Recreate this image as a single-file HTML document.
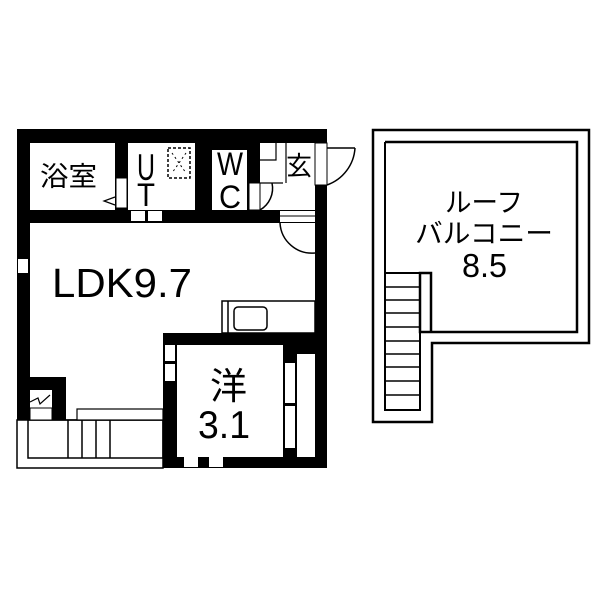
<!DOCTYPE html>
<html><head><meta charset="utf-8"><style>
html,body{margin:0;padding:0;background:#fff;width:600px;height:600px;overflow:hidden}
text{font-family:"Liberation Sans","Noto Sans CJK JP",sans-serif;fill:#000}
</style></head><body>
<svg width="600" height="600" viewBox="0 0 600 600" xmlns="http://www.w3.org/2000/svg">
<rect x="17" y="129" width="310" height="339" fill="#000"/>
<rect x="30" y="143" width="85" height="67" fill="#fff"/>
<rect x="128" y="143" width="67" height="67" fill="#fff"/>
<rect x="212" y="150" width="35" height="60" fill="#fff"/>
<rect x="260" y="143" width="55" height="67" fill="#fff"/>
<rect x="30" y="223" width="285" height="110" fill="#fff"/>
<rect x="30" y="333" width="133" height="87" fill="#fff"/>
<rect x="177" y="345" width="106" height="112" fill="#fff"/>
<rect x="17" y="420" width="146" height="48" fill="#fff"/>
<rect x="17" y="420" width="146" height="48" fill="none" stroke="#000" stroke-width="1.5"/>
<rect x="28" y="420" width="135" height="38" fill="none" stroke="#000" stroke-width="1.5"/>
<line x1="68" y1="420" x2="68" y2="458" stroke="#000" stroke-width="1.5"/>
<line x1="82" y1="420" x2="82" y2="458" stroke="#000" stroke-width="1.5"/>
<line x1="96" y1="420" x2="96" y2="458" stroke="#000" stroke-width="1.5"/>
<line x1="110" y1="420" x2="110" y2="458" stroke="#000" stroke-width="1.5"/>
<rect x="30" y="377" width="36" height="43" fill="#000"/>
<rect x="30" y="390" width="22" height="18" fill="#fff"/>
<polyline points="30,402 38,398 40,404 50,395" fill="none" stroke="#000" stroke-width="1.2"/>
<rect x="30" y="408" width="22" height="12" fill="#fff" stroke="#000" stroke-width="1"/>
<rect x="77" y="409" width="86" height="11" fill="#fff" stroke="#000" stroke-width="1.2"/>
<rect x="18" y="259" width="10" height="14" fill="#fff"/>
<rect x="116" y="178" width="11" height="30" fill="#fff" stroke="#000" stroke-width="1"/>
<polyline points="115,197 104,201 115,205" fill="none" stroke="#000" stroke-width="1.2"/>
<rect x="131" y="211" width="14" height="10" fill="#fff"/><rect x="148" y="211" width="14" height="10" fill="#fff"/>
<rect x="168" y="148" width="22" height="30" fill="none" stroke="#000" stroke-width="1.5" stroke-dasharray="3,2"/>
<line x1="172" y1="153" x2="186" y2="173" stroke="#000" stroke-dasharray="2,3"/><line x1="186" y1="153" x2="172" y2="173" stroke="#000" stroke-dasharray="2,3"/>
<rect x="249" y="183" width="11" height="27" fill="#fff" stroke="#000" stroke-width="1"/>
<path d="M260,210 A25,25 0 0 0 272,183" fill="none" stroke="#000" stroke-width="1.5"/>
<line x1="260" y1="183" x2="283" y2="183" stroke="#000" stroke-width="1.2"/>
<polyline points="260,160 276,160 276,143" fill="none" stroke="#000" stroke-width="1.2"/>
<line x1="286" y1="143" x2="286" y2="183" stroke="#000" stroke-width="1.2"/>
<rect x="315" y="143" width="12" height="42" fill="#fff" stroke="#000" stroke-width="1"/>
<path d="M327,185 A42,42 0 0 0 355,148" fill="none" stroke="#000" stroke-width="1.5"/>
<line x1="327" y1="148" x2="355" y2="148" stroke="#000" stroke-width="1.5"/>
<rect x="280" y="211" width="35" height="11" fill="#fff"/>
<line x1="280" y1="216" x2="315" y2="216" stroke="#000"/>
<path d="M280,223 A32,32 0 0 0 315,253" fill="none" stroke="#000" stroke-width="1.5"/>
<rect x="222" y="301" width="93" height="32" fill="#fff" stroke="#000" stroke-width="1.5"/>
<line x1="228" y1="301" x2="228" y2="333" stroke="#000" stroke-width="1.5"/>
<rect x="234" y="307" width="33" height="23" rx="4" fill="none" stroke="#000" stroke-width="1.5"/>
<rect x="165" y="345" width="10" height="16" fill="#fff"/><rect x="165" y="364" width="10" height="17" fill="#fff"/>
<rect x="297" y="354" width="18" height="103" fill="#fff"/>
<rect x="285" y="363" width="10" height="40" fill="#fff"/><rect x="285" y="406" width="10" height="42" fill="#fff"/>
<rect x="184" y="457" width="14" height="10" fill="#fff"/><rect x="209" y="457" width="14" height="10" fill="#fff"/>
<text x="40" y="186" font-size="27" textLength="57" lengthAdjust="spacingAndGlyphs">浴室</text>
<text x="137" y="180" font-size="37" textLength="18" lengthAdjust="spacingAndGlyphs">U</text>
<text x="137" y="206" font-size="32" textLength="18" lengthAdjust="spacingAndGlyphs">T</text>
<text x="217" y="175" font-size="32" textLength="26" lengthAdjust="spacingAndGlyphs">W</text>
<text x="219" y="208" font-size="32" textLength="22" lengthAdjust="spacingAndGlyphs">C</text>
<text x="286" y="175" font-size="26">玄</text>
<text x="52" y="297" font-size="41" textLength="140" lengthAdjust="spacingAndGlyphs">LDK9.7</text>
<text x="210" y="399" font-size="37">洋</text>
<text x="198" y="438" font-size="39" textLength="52" lengthAdjust="spacingAndGlyphs">3.1</text>
<path d="M373,130 H589 V343 H432 V422 H373 Z" fill="none" stroke="#000" stroke-width="2.5"/>
<path d="M385,142 H577 V332 H420 V273 H431 V332" fill="none" stroke="#000" stroke-width="2.5"/>
<path d="M385,142 V410 H420 V273 H385" fill="none" stroke="#000" stroke-width="2"/>
<g stroke="#000" stroke-width="1.5">
<line x1="385" y1="287" x2="420" y2="287"/><line x1="385" y1="300" x2="420" y2="300"/><line x1="385" y1="313" x2="420" y2="313"/><line x1="385" y1="327" x2="420" y2="327"/><line x1="385" y1="341" x2="420" y2="341"/><line x1="385" y1="354" x2="420" y2="354"/><line x1="385" y1="367" x2="420" y2="367"/><line x1="385" y1="381" x2="420" y2="381"/><line x1="385" y1="395" x2="420" y2="395"/>
</g>
<text x="445" y="212" font-size="27" textLength="78" lengthAdjust="spacingAndGlyphs">ルーフ</text>
<text x="415" y="243" font-size="27" textLength="138" lengthAdjust="spacingAndGlyphs">バルコニー</text>
<text x="462" y="277" font-size="33" textLength="45" lengthAdjust="spacingAndGlyphs">8.5</text>
</svg>
</body></html>
